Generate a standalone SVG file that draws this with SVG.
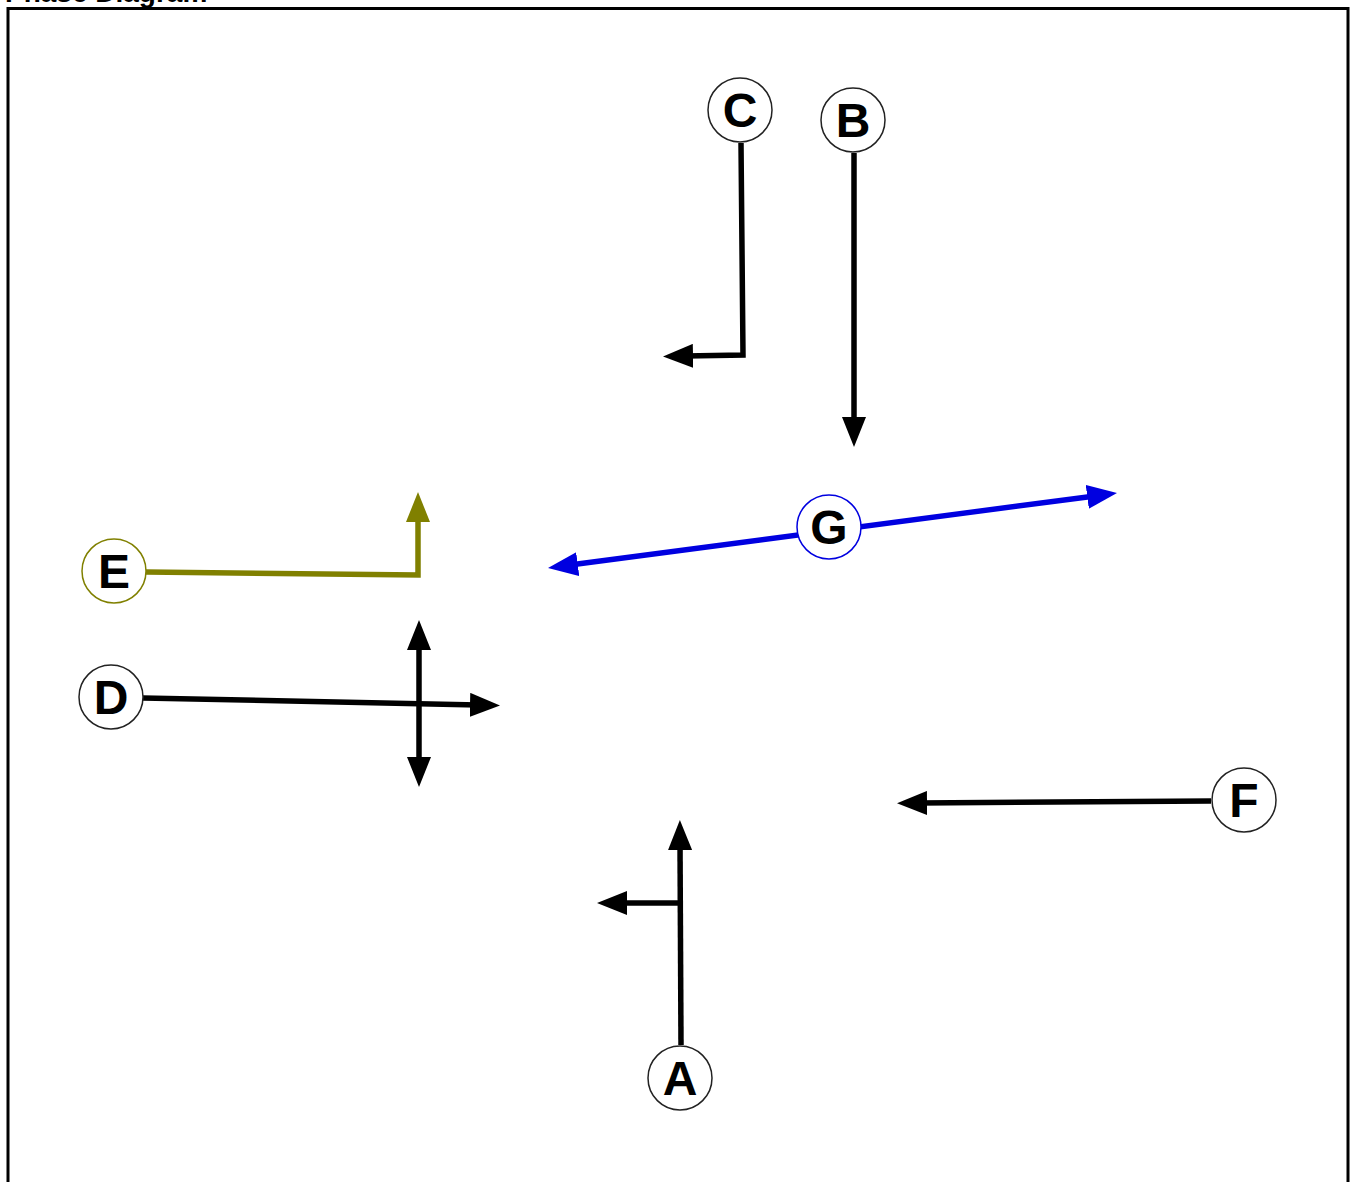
<svg xmlns="http://www.w3.org/2000/svg" width="1355" height="1182" viewBox="0 0 1355 1182">
<style>
.title{font-family:"Liberation Sans",Arial,sans-serif;font-weight:bold;font-size:28px;fill:#000}
.node circle{fill:#fff;stroke:#222;stroke-width:1.5}
.node text{font-family:"Liberation Sans",Arial,sans-serif;font-weight:bold;font-size:48px;fill:#000;text-anchor:middle;dominant-baseline:central}
.conn path{fill:none;stroke-width:5.5;stroke-linejoin:miter}
.blk{stroke:#000}
.olv{stroke:#808000}
.blu{stroke:#0000e0}
</style>
<defs>
<marker id="ah" markerUnits="userSpaceOnUse" markerWidth="30" markerHeight="24" refX="8" refY="12" orient="auto-start-reverse" viewBox="0 0 30 24">
<path d="M0,0 L30,12 L0,24 z" fill="#000"/>
</marker>
<marker id="ahO" markerUnits="userSpaceOnUse" markerWidth="30" markerHeight="24" refX="8" refY="12" orient="auto-start-reverse" viewBox="0 0 30 24">
<path d="M0,0 L30,12 L0,24 z" fill="#808000"/>
</marker>
<marker id="ahB" markerUnits="userSpaceOnUse" markerWidth="30" markerHeight="24" refX="8" refY="12" orient="auto-start-reverse" viewBox="0 0 30 24">
<path d="M0,0 L30,12 L0,24 z" fill="#0000e0"/>
</marker>
</defs>
<rect width="1355" height="1182" fill="#fff"/>
<text class="title" x="5" y="2">Phase Diagram</text>
<rect x="8" y="8.5" width="1340" height="1190" fill="none" stroke="#000" stroke-width="3"/>
<g id="connectors" class="conn">
<path class="blk" d="M741,143 L743,355 L685,356" marker-end="url(#ah)"/>
<path class="blk" d="M854,153 L854,425" marker-end="url(#ah)"/>
<path class="olv" d="M146,572 L418,575 L418,514" marker-end="url(#ahO)"/>
<path class="blk" d="M143,698 L478,705" marker-end="url(#ah)"/>
<path class="blk" d="M419,642 L419,765" marker-start="url(#ah)" marker-end="url(#ah)"/>
<path class="blu" d="M569.8,565.1 L1095.2,495.9" marker-start="url(#ahB)" marker-end="url(#ahB)"/>
<path class="blk" d="M1211,801 L919,803" marker-end="url(#ah)"/>
<path class="blk" d="M681,1045 L680,842" marker-end="url(#ah)"/>
<path class="blk" d="M680,903 L619,903" marker-end="url(#ah)"/>
</g>
<g id="node-C" class="node"><circle cx="740" cy="110" r="32"/><text x="740" y="110">C</text></g>
<g id="node-B" class="node"><circle cx="853" cy="120" r="32"/><text x="853" y="120">B</text></g>
<g id="node-E" class="node"><circle cx="114" cy="571" r="32" style="stroke:#808000"/><text x="114" y="571">E</text></g>
<g id="node-D" class="node"><circle cx="111" cy="697" r="32"/><text x="111" y="697">D</text></g>
<g id="node-G" class="node"><circle cx="829" cy="527" r="32" style="stroke:#0000e0"/><text x="829" y="527">G</text></g>
<g id="node-F" class="node"><circle cx="1244" cy="800" r="32"/><text x="1244" y="800">F</text></g>
<g id="node-A" class="node"><circle cx="680" cy="1078" r="32"/><text x="680" y="1078">A</text></g>
</svg>
